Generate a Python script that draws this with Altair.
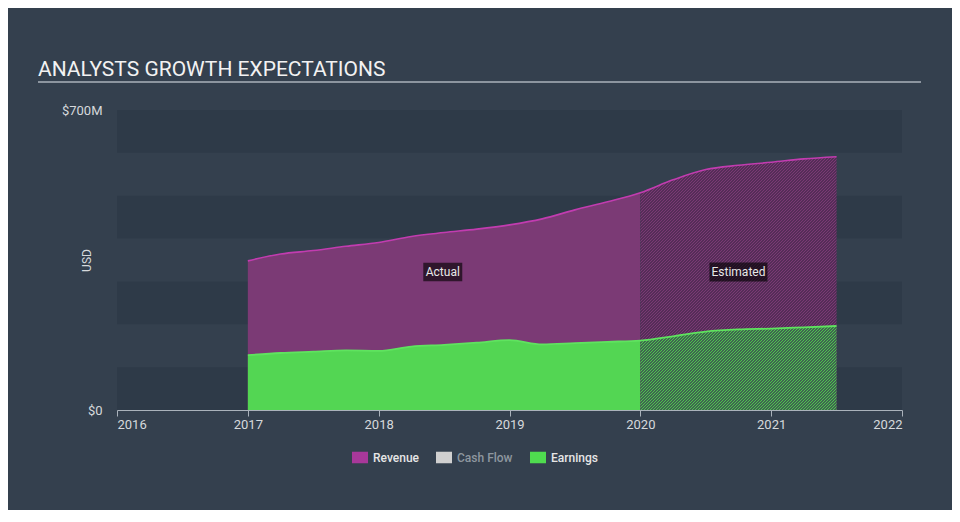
import math
import altair as alt
import pandas as pd

# ---------------- data ----------------
years_actual = [2017.0, 2017.25, 2017.5, 2017.75, 2018.0, 2018.25, 2018.5,
                2018.75, 2019.0, 2019.25, 2019.5, 2019.75, 2020.0]
revenue_actual = [348, 364, 372, 382, 391, 405, 414, 422, 432, 446, 467, 486, 507]
earnings_actual = [128, 133, 136, 139, 138, 148, 152, 157, 163, 153, 156, 159, 162]

years_est = [2020.0, 2020.25, 2020.5, 2020.75, 2021.0, 2021.25, 2021.5]
revenue_est = [507, 537, 561, 571, 578, 586, 591]
earnings_est = [162, 172, 183, 188, 190, 193, 196]

series_names = ["Revenue", "Cash Flow", "Earnings"]
legend_colors = ["#a8389a", "#d0d0d0", "#4fdc4f"]

band_lo = [0, 200, 400, 600]
band_hi = [100, 300, 500, 700]

x_ticks = [2016, 2017, 2018, 2019, 2020, 2021, 2022]
y_ticks = [0, 700]

annot_text = ["Actual", "Estimated"]
annot_x = [2018.49, 2020.75]
annot_y = [322, 322]

title_text = "ANALYSTS GROWTH EXPECTATIONS"

# ---------------- layout / style ----------------
W, H = 785, 300
X_DOM = [2016, 2022]
Y_DOM = [0, 700]
PX_YEAR = W / (X_DOM[1] - X_DOM[0])
PX_UNIT = H / (Y_DOM[1] - Y_DOM[0])

BG = "#34404e"
BAND = "#2e3a48"
AXIS_COL = "#aab2bb"
TXT = "#d6d9dc"
FONT = "Roboto"

REV_FILL = "#7b3a75"
REV_LINE = "#c23cb0"
EARN_FILL = "#53d653"
EARN_LINE = "#5fe35f"


def hatch(w, h, hperiod, c_line, c_gap, frac):
    """Diagonal '/' stripes at 45 deg with a horizontal period of hperiod px."""
    m = max(w, h)
    dx, dy = w / m, h / m
    t = (dx + dy) / (dx * dx + dy * dy)
    span = w + h
    n = int(math.ceil(span / hperiod))
    t *= (n * hperiod) / span
    stops = []
    for i in range(n):
        a = round(i / n, 6)
        b = round((i + frac) / n, 6)
        c = round((i + 1) / n, 6)
        stops += [
            alt.GradientStop(color=c_line, offset=a),
            alt.GradientStop(color=c_line, offset=b),
            alt.GradientStop(color=c_gap, offset=b),
            alt.GradientStop(color=c_gap, offset=c),
        ]
    return alt.LinearGradient(gradient="linear", stops=stops,
                              x1=0, y1=0, x2=t * dx, y2=t * dy)


est_w = (years_est[-1] - years_est[0]) * PX_YEAR
rev_hatch = hatch(est_w, max(revenue_est) * PX_UNIT, 3, "#7a3a74", "#552d58", 0.5)
earn_hatch = hatch(est_w, max(earnings_est) * PX_UNIT, 3, "#4ec34e", "#3f6650", 0.5)

# ---------------- tables ----------------
df_rev_a = pd.DataFrame({"year": years_actual, "value": revenue_actual})
df_earn_a = pd.DataFrame({"year": years_actual, "value": earnings_actual})
df_rev_e = pd.DataFrame({"year": years_est, "value": revenue_est})
df_earn_e = pd.DataFrame({"year": years_est, "value": earnings_est})
df_rev_all = pd.DataFrame({"year": years_actual + years_est[1:],
                           "value": revenue_actual + revenue_est[1:]})
df_earn_all = pd.DataFrame({"year": years_actual + years_est[1:],
                            "value": earnings_actual + earnings_est[1:]})
df_bands = pd.DataFrame({"lo": band_lo, "hi": band_hi})
df_legend = pd.DataFrame({"series": series_names,
                          "year": [2018.5] * 3, "value": [40] * 3})
df_annot = pd.DataFrame({"label": annot_text, "year": annot_x, "value": annot_y})
df_title = pd.DataFrame({"t": [title_text]})

# ---------------- shared encodings ----------------
x_enc = alt.X("year:Q",
              scale=alt.Scale(domain=X_DOM, nice=False, zero=False),
              axis=alt.Axis(values=x_ticks, format="d", title=None, grid=False,
                            domainColor=AXIS_COL, domainWidth=1,
                            tickColor=AXIS_COL, tickSize=6, tickWidth=1,
                            labelColor=TXT, labelFont=FONT, labelFontSize=13,
                            labelPadding=2))
y_axis = alt.Axis(values=y_ticks, grid=False, domain=False, ticks=False,
                  labelExpr="datum.value == 0 ? '$0' : '$' + datum.value + 'M'",
                  labelColor=TXT, labelFont=FONT, labelFontSize=13,
                  labelPadding=15, labelBaseline="middle",
                  title="USD", titleColor=TXT, titleFont=FONT, titleFontSize=12,
                  titleFontWeight="normal", titleAngle=270, titleAlign="center",
                  titleBaseline="middle", titleX=-31, titleY=H / 2)
y_enc = alt.Y("value:Q", scale=alt.Scale(domain=Y_DOM, nice=False, zero=True),
              axis=y_axis)

# ---------------- layers ----------------
bands = alt.Chart(df_bands).mark_rect(color=BAND).encode(
    x=alt.value(0), x2=alt.value("width"),
    y=alt.Y("lo:Q", scale=alt.Scale(domain=Y_DOM, nice=False, zero=True), axis=y_axis),
    y2="hi:Q",
)

legend_box = "M-1,-0.72L1,-0.72L1,0.72L-1,0.72Z"
legend_layer = alt.Chart(df_legend).mark_point(
    filled=True, shape=legend_box, size=4, opacity=1, strokeWidth=0
).encode(
    x=x_enc, y=y_enc,
    color=alt.Color("series:N",
                    scale=alt.Scale(domain=series_names, range=legend_colors),
                    legend=alt.Legend(
                        title=None, orient="none", direction="horizontal",
                        legendX=235, legendY=339.5, padding=0,
                        symbolType=legend_box, symbolSize=256,
                        symbolStrokeWidth=0, symbolOpacity=1,
                        labelFont=FONT, labelFontSize=12, labelFontWeight=500,
                        labelColor={"expr": "datum.label == 'Cash Flow' ? '#8e979f' : '#e6e6e6'"},
                        labelOffset=5, columnPadding=17)),
)

rev_area_a = alt.Chart(df_rev_a).mark_area(color=REV_FILL, interpolate="monotone").encode(x=x_enc, y=y_enc)
rev_area_e = alt.Chart(df_rev_e).mark_area(color=rev_hatch, interpolate="monotone").encode(x=x_enc, y=y_enc)
earn_area_a = alt.Chart(df_earn_a).mark_area(color=EARN_FILL, interpolate="monotone").encode(x=x_enc, y=y_enc)
earn_area_e = alt.Chart(df_earn_e).mark_area(color=earn_hatch, interpolate="monotone").encode(x=x_enc, y=y_enc)

rev_line = alt.Chart(df_rev_all).mark_line(color=REV_LINE, strokeWidth=1.6,
                                           interpolate="monotone").encode(x=x_enc, y=y_enc)
earn_line = alt.Chart(df_earn_all).mark_line(color=EARN_LINE, strokeWidth=1.8,
                                             interpolate="monotone").encode(x=x_enc, y=y_enc)

box_actual = "M-0.65,-0.31L0.65,-0.31L0.65,0.31L-0.65,0.31Z"
box_est = "M-0.967,-0.317L0.967,-0.317L0.967,0.317L-0.967,0.317Z"
annot_boxes = alt.Chart(df_annot).mark_point(
    filled=True, size=3600, opacity=0.62, color="#000000", strokeWidth=0
).encode(
    x=x_enc, y=y_enc,
    shape=alt.Shape("label:N", scale=alt.Scale(domain=annot_text, range=[box_actual, box_est]),
                    legend=None),
)
annot_text_layer = alt.Chart(df_annot).mark_text(
    font=FONT, fontSize=12, color="#e8e8e8", align="center", baseline="middle"
).encode(x=x_enc, y=y_enc, text="label:N")

title_layer = alt.Chart(df_title).mark_text(
    font=FONT, fontSize=21, color="#f2f2f2", align="left", baseline="alphabetic"
).encode(x=alt.value(-79), y=alt.value(-34), text="t:N")
title_rule = alt.Chart(df_title).mark_rule(color="#aab2bb", strokeWidth=1.3).encode(
    x=alt.value(-79), x2=alt.value(804), y=alt.value(-28))

chart = alt.layer(
    bands, legend_layer, rev_area_a, rev_area_e, earn_area_a, earn_area_e,
    rev_line, earn_line, annot_boxes, annot_text_layer, title_layer, title_rule,
).properties(
    width=W, height=H,
    background=BG,
    padding={"left": 109, "top": 102, "right": 50, "bottom": 100},
    autosize=alt.AutoSizeParams(type="none"),
).configure_view(stroke=None)

chart.save("out.html", embed_options={"renderer": "svg", "actions": False})
